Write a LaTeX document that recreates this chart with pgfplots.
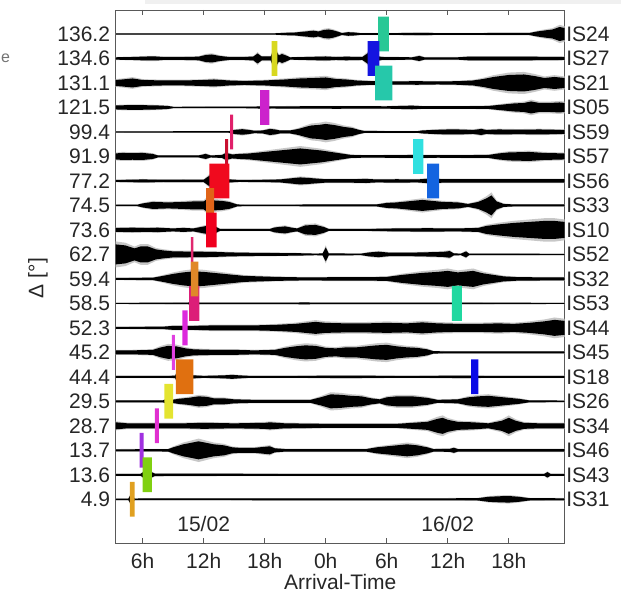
\documentclass[border=0pt]{standalone}
\usepackage{fontspec}
\setmainfont{Liberation Sans}
\usepackage{pgfplots}
\usepackage{pgfplotstable}
\pgfplotsset{compat=1.18}
\usepgfplotslibrary{fillbetween}

\definecolor{cA}{HTML}{28C896}
\definecolor{cB}{HTML}{D8D820}
\definecolor{cC}{HTML}{1414E0}
\definecolor{cD}{HTML}{26C8AA}
\definecolor{cE}{HTML}{CC22CC}
\definecolor{cF}{HTML}{E0206A}
\definecolor{cG}{HTML}{C81030}
\definecolor{cH}{HTML}{30E0E0}
\definecolor{cI}{HTML}{F00A1E}
\definecolor{cJ}{HTML}{1464E0}
\definecolor{cK}{HTML}{E06418}
\definecolor{cL}{HTML}{F0001E}
\definecolor{cM}{HTML}{E0286E}
\definecolor{cN}{HTML}{DC1E78}
\definecolor{cO}{HTML}{E08828}
\definecolor{cP}{HTML}{20D8A0}
\definecolor{cQ}{HTML}{DC28DC}
\definecolor{cR}{HTML}{E040E0}
\definecolor{cS}{HTML}{E07010}
\definecolor{cT}{HTML}{0A0AE6}
\definecolor{cU}{HTML}{E4E430}
\definecolor{cV}{HTML}{E030D0}
\definecolor{cW}{HTML}{A030E0}
\definecolor{cX}{HTML}{80D010}
\definecolor{cY}{HTML}{E0A020}

% envelope half-amplitudes (pixels) of each trace, t in hours from 15/02 00:00
\pgfplotstableread{
t a
3.35 0.6
19 0.7
20 1.2
21 1.5
22 2.5
22.8 3.3
23.3 2.5
23.8 4
24.3 4.5
24.8 3.5
25.3 2
25.6 1
26.2 1.8
26.8 1.5
27.5 0.8
30 0.8
33 1.2
34 1.2
35 0.8
38 0.8
40 1
44 1
44.8 2.5
45.5 3.5
46.3 4.5
47 7
47.5 6
}\tA
\pgfplotstableread{
t a
3.35 1.2
5 1.5
6.5 2
7.3 2
8 1.5
10 1.5
11.5 1.8
12.2 3.5
12.8 4
13.6 2.5
14.5 1.5
16 1.5
16.9 2
17.3 5
17.7 2
18.6 2
18.9 10
19.1 8
19.4 3
19.7 4.5
20.1 3
20.5 1.2
22 1.5
24 2
25 1.5
26 1.8
27.6 1.5
28.1 5
28.3 8
28.6 5
29 2.5
29.5 1.5
32.5 1.2
33.2 2.5
33.7 1.2
37 1.2
38 1.8
41 1.8
44 1.8
47.5 1.5
}\tB
\pgfplotstableread{
t a
3.35 3
4 3.5
5 4.5
6 3
8 2.5
10 2.5
12 3
13 3.5
14.5 2.5
16 2
18 2.5
20 3.5
21.5 4.5
23 5
24 5.5
25 4
26 3.5
27 2.5
28 2
30 1.5
33 1.8
35 1.5
37 1.8
38.5 2.5
39.5 4
40.5 6
42 8
43.5 8.5
44.5 7
45.5 5
46.5 6
47.5 5
}\tC
\pgfplotstableread{
t a
3.35 2
4.5 2.3
6 2.3
7.5 2
8.5 1.5
9 0.7
17 0.8
18 1.5
18.6 1
21 1.2
25 1.3
30 1.2
32.5 1.8
33.5 1.3
38 1.3
40 1.5
41.5 3
42.5 4
43.5 4.5
44.2 6
45 4.5
46 4.5
47 5
47.5 4.5
}\tD
\pgfplotstableread{
t a
3.35 0.6
14.5 0.8
15 2
15.8 2.8
16.5 2
17 1.2
17.8 1.5
18.5 3
19 2.5
19.5 1.5
20.5 1.5
21.3 3
22 5
22.6 6.5
23.3 7
24 8
24.8 7
25.8 5
26.6 4
27.3 2
27.8 1
33 0.8
33.5 1.5
34.5 2
36 2.5
37 2.5
38.5 2
39.3 3
39.8 2
41 2.5
43 2.2
45 2.5
47.5 2
}\tE
\pgfplotstableread{
t a
3.35 3
4 3.5
5 3.3
6 3.5
7 2.5
7.5 1
11.5 1
12.2 2.5
12.7 1
13.8 1.5
14.2 3.5
14.8 2
15.5 2.5
16.5 3
17.5 4
18.5 5
19.5 6
20.5 7
21.5 8
22.5 7
23.5 6
24.5 4.5
25.5 3
26.5 1.5
28 1.2
33 1.5
35 1.3
40 1.5
41 3
42 4
44 4.5
45.5 3.5
47.5 3
}\tF
\pgfplotstableread{
t a
3.35 1
5 1.3
6 1.5
8 1.2
10 1.3
12 1.2
12.6 5.5
13 4
13.5 3
14 2
14.6 1.5
15.5 1
18 1.2
19.5 1.5
20.5 2.5
21.5 3.5
22.3 3
23.3 2.2
24 1.7
26 1.7
28 2
29 1.5
31 1.7
33 1.5
34.5 2.5
35.5 1.7
38 1.7
41 1.7
44 1.7
47.5 1.7
}\tG
\pgfplotstableread{
t a
3.35 0.7
5.5 0.8
6 2
7 3.5
8.5 3
10 3.5
11 4
12 4
12.6 8
13 5
13.8 4.5
14.5 3.5
15.3 1
16 0.7
21 0.7
22 1
24 1
29 1
30 2.5
31 3
32.5 4.5
33.5 5.5
34.5 4.5
35.5 3.5
37 3
38 1.5
39 3.5
39.8 7
40.3 10
40.8 4
41.5 1.5
42.5 1
47.5 1
}\tH
\pgfplotstableread{
t a
3.35 2
5 2.2
6.5 2
7.5 2.2
9 1.5
10 2
11 1.5
12.3 4
12.6 7
13.2 3
13.6 1
18.5 1
19 2.5
20 3.5
20.8 2
21.2 1.5
22 4.5
23 5
23.8 3
24.3 1
28 1
31 1.5
34 1.7
37 1.5
39 2
39.8 4
41 5.5
42.5 7
44 8
45.5 9
46.5 9
47.5 8
}\tI
\pgfplotstableread{
t a
3.35 10
4.3 9
5.2 6
5.8 8
6.5 8
7.3 5
8 4
9 3
11 2.8
13 2.5
14.5 2
16 1.7
18 1.5
21 1.3
23 0.8
23.7 1
24 7
24.3 1
27.5 0.8
28.3 2
29.2 2.7
30.2 1.8
32 1.7
33.5 2
35.5 2.5
36.2 3.3
36.6 1
37.3 0.8
37.8 3
38.1 0.8
47.5 0.6
}\tJ
\pgfplotstableread{
t a
3.35 1
7 1.2
8 3
9 5
10 6.5
11 7.5
12 7
13 6
14 5
15 4
16 3
17.5 2.5
19 2
22 1.5
25 1.7
28 1.7
30 2
31.5 4
32.5 5
33.5 6
35 7
36 8
37 6.5
38.5 8
39.5 5.5
40.5 4
41.5 2.5
43 1.7
47.5 1.5
}\tK
\pgfplotstableread{
t a
3.35 0.6
10.5 0.7
10.8 4
11.2 2
11.6 0.7
21 0.8
22 1
23 0.7
36.5 0.8
36.9 2
37.3 0.7
47.5 0.6
}\tL
\pgfplotstableread{
t a
3.35 1
8 1.2
9 2
11 2
13 2.5
15 2.5
17 2.5
19 3
21 4
22 5
23 6
24 5
26 4.5
28 4.5
30 5
32 4.5
33.5 5.5
35 4.5
37 4
39 4
41 4.5
42.5 4
44 5
45.5 6.5
46.5 8
47.5 7
}\tM
\pgfplotstableread{
t a
3.35 2
5 2
7 2.5
7.8 5
8.5 6.5
9.3 6
10.2 4
11 3
13 2.5
15 2.5
17 2
19 2.5
20 4.5
21 6
22 7
23 6.5
24 4.5
25 4
26 5
27 5
28 6
29 7
30 7.5
31 6
32 5
33 4.5
34 3
34.6 1.2
36 1
47.5 1
}\tN
\pgfplotstableread{
t a
3.35 1
8.5 1
9.2 1.2
9.4 6
9.9 4
10.5 2.5
11 1.5
12 1
14 1.5
14.8 2
15.5 1.5
16.5 1
20 1
26 1.2
32 1
38 1.2
40 1
47.5 1
}\tO
\pgfplotstableread{
t a
3.35 1
8 1
8.4 2.5
8.9 1.5
9.5 2.5
10.5 3.5
11.5 5
12.3 4.5
13 3
14 3
15 2
17 1.5
20 1.5
22.5 1.5
23.5 4
24.5 7
25.5 6.5
26.5 5.5
27.5 5
28.5 3
29.3 2
30 4
31 5
32.5 5
34 3.5
35 1.5
37 2
38 4
39 5
40 5.5
41 4.5
42 3.5
43 2.5
44 1
47.5 0.8
}\tP
\pgfplotstableread{
t a
3.35 3.5
4.5 2.5
7 2.5
10 2.5
12 3
15 2.5
18 3
18.5 3.5
20 2.5
24 2
28 2
31 2
32.5 3
34 4
35 7
35.5 8
36 6
37 4
38.5 3.5
40 2.5
41.3 5
42 8
42.7 5
43.5 3
45 2.5
47.5 2.5
}\tQ
\pgfplotstableread{
t a
3.35 1
8.5 1.2
9 3
10 6
11 8
11.5 9
12 8
13 6
14 5
14.8 3
15.5 2.5
17 2.5
18 3.5
18.5 4
19 2
20 1.3
28 1.3
29 3
30 4
31 5
32 6
33 5
34 3
34.6 1.3
36.2 1.5
36.6 2.5
37 1.3
47.5 1.3
}\tR
\pgfplotstableread{
t a
3.35 1
5.8 1
6.1 3
6.4 6
6.8 3
7.2 1.2
20 1
40 1
45.5 1
45.8 2.7
46.1 1
47.5 1
}\tS
\pgfplotstableread{
t a
3.35 0.8
4.6 0.8
4.9 6
5.2 0.8
21 1
28 1
36 1
39 1.2
40 2.5
41 3
42 3.3
43 2.5
44 1.2
47.5 1
}\tT

\newcommand\trace[3]{%
 \addplot[draw=none, forget plot, name path=gu#3] table[x=t, y expr={#1+1.3*\thisrow{a}/24.5}]{#2};
 \addplot[draw=none, forget plot, name path=gl#3] table[x=t, y expr={#1-1.3*\thisrow{a}/24.5}]{#2};
 \addplot[black!22, forget plot] fill between[of=gu#3 and gl#3];
 \addplot[draw=none, forget plot, name path=u#3] table[x=t, y expr={#1+\thisrow{a}/24.5}]{#2};
 \addplot[draw=none, forget plot, name path=l#3] table[x=t, y expr={#1-\thisrow{a}/24.5}]{#2};
 \addplot[black, forget plot] fill between[of=u#3 and l#3];
}
\newcommand\bx[5]{%
 \addplot[fill=#5, draw=none, forget plot] coordinates {(#1,#3) (#2,#3) (#2,#4) (#1,#4) (#1,#3)};
}

\begin{document}
\begin{tikzpicture}[font=\fontsize{21}{25}\selectfont]
\fill[black!6] (29.3pt,538.5pt) rectangle (505.3pt,543pt);
\node[anchor=west, inner sep=0pt, text=black!55, font=\fontsize{16}{19}\selectfont] at (-114.7pt,485pt) {e};
\begin{axis}[
 at={(0pt,0pt)}, anchor=south west,
 scale only axis, width=449pt, height=533pt,
 xmin=3.35, xmax=47.5, ymin=-0.784, ymax=20.98,
 axis line style={black!65, line width=0.9pt},
 xtick={6,12,18,24,30,36,42},
 xticklabels={6h,12h,18h,0h,6h,12h,18h},
 tick align=inside,
 major tick length=5pt,
 xtick style={black!65, line width=0.9pt},
 ytick={1,...,20},
 yticklabels={4.9,13.6,13.7,28.7,29.5,44.4,45.2,52.3,58.5,59.4,62.7,73.6,74.5,77.2,91.9,99.4,121.5,131.1,134.6,136.2},
 ytick style={draw=none},
 tick label style={font=\fontsize{21}{25}\selectfont, text=black!85},
 xticklabel style={inner ysep=10pt},
 yticklabel style={inner xsep=5.5pt},
 xlabel={Arrival-Time},
 ylabel={Δ [°]},
 label style={font=\fontsize{21}{25}\selectfont, text=black!85},
 xlabel style={at={(axis description cs:0.5,-0.0726)}, anchor=center},
 ylabel style={at={(axis description cs:-0.173,0.497)}, anchor=center},
]
% arrival boxes
\bx{29.15}{30.2}{19.29}{20.71}{cA}
\bx{18.69}{19.24}{18.29}{19.71}{cB}
\bx{28.13}{29.27}{18.29}{19.71}{cC}
\bx{28.85}{30.55}{17.29}{18.71}{cD}
\bx{17.54}{18.45}{16.29}{17.71}{cE}
\bx{14.6}{14.9}{15.29}{16.71}{cF}
\bx{14.1}{14.4}{14.29}{15.71}{cG}
\bx{32.6}{33.6}{14.29}{15.71}{cH}
\bx{12.55}{14.52}{13.29}{14.71}{cI}
\bx{33.97}{35.14}{13.29}{14.71}{cJ}
\bx{12.23}{13.04}{12.29}{13.71}{cK}
\bx{12.23}{13.28}{11.29}{12.71}{cL}
\bx{10.75}{10.98}{10.29}{11.71}{cM}
\bx{10.58}{11.57}{8.29}{9.71}{cN}
\bx{10.75}{11.47}{9.29}{10.71}{cO}
\bx{36.4}{37.4}{8.29}{9.71}{cP}
\bx{9.9}{10.43}{7.29}{8.71}{cQ}
\bx{8.88}{9.18}{6.29}{7.71}{cR}
\bx{9.27}{10.98}{5.29}{6.71}{cS}
\bx{38.3}{39.0}{5.29}{6.71}{cT}
\bx{8.13}{9.0}{4.29}{5.71}{cU}
\bx{7.2}{7.6}{3.29}{4.71}{cV}
\bx{5.7}{6.1}{2.29}{3.71}{cW}
\bx{6.0}{6.9}{1.29}{2.71}{cX}
\bx{4.75}{5.2}{0.29}{1.71}{cY}
% traces
\trace{20}{\tA}{A}
\trace{19}{\tB}{B}
\trace{18}{\tC}{C}
\trace{17}{\tD}{D}
\trace{16}{\tE}{E}
\trace{15}{\tF}{F}
\trace{14}{\tG}{G}
\trace{13}{\tH}{H}
\trace{12}{\tI}{I}
\trace{11}{\tJ}{J}
\trace{10}{\tK}{K}
\trace{9}{\tL}{L}
\trace{8}{\tM}{M}
\trace{7}{\tN}{N}
\trace{6}{\tO}{O}
\trace{5}{\tP}{P}
\trace{4}{\tQ}{Q}
\trace{3}{\tR}{R}
\trace{2}{\tS}{S}
\trace{1}{\tT}{T}
\node[text=black!85] at (axis cs:12,-0.02) {15/02};
\node[text=black!85] at (axis cs:36,-0.02) {16/02};
\end{axis}
\begin{axis}[
 at={(0pt,0pt)}, anchor=south west,
 scale only axis, width=449pt, height=533pt,
 xmin=3.35, xmax=47.5, ymin=-0.784, ymax=20.98,
 axis line style={draw=none}, xtick=\empty,
 ytick={1,...,20},
 yticklabels={IS31,IS43,IS46,IS34,IS26,IS18,IS45,IS44,IS53,IS32,IS52,IS10,IS33,IS56,IS57,IS59,IS05,IS21,IS27,IS24},
 yticklabel pos=right, ytick style={draw=none},
 tick label style={font=\fontsize{21}{25}\selectfont, text=black!85},
 yticklabel style={inner xsep=1.5pt},
]
\addplot[draw=none, forget plot] coordinates {(10,1) (20,20)};
\end{axis}
\pgfresetboundingbox
\path[use as bounding box] (-115.7pt,-50pt) rectangle (505.3pt,543pt);
\end{tikzpicture}
\end{document}
